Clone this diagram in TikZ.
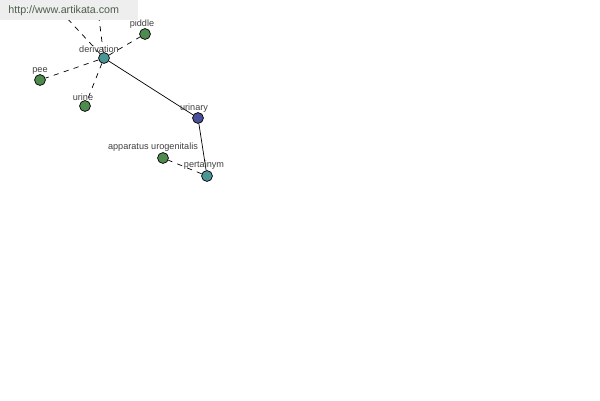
\documentclass[tikz,border=0pt]{standalone}
\usepackage{fontspec}
\setmainfont{Liberation Sans}
\usepackage{xcolor}
\usetikzlibrary{positioning, arrows.meta, calc}
\definecolor{leafgreen}{HTML}{4F8A4F}
\definecolor{relteal}{HTML}{4A9696}
\definecolor{wordblue}{HTML}{4A4F9A}
\definecolor{labelgray}{HTML}{404040}
\definecolor{bannergray}{HTML}{EEEEEE}
\definecolor{sitegreen}{HTML}{4E5E4E}

\tikzset{
  word/.style={circle, draw=black, line width=0.4pt, minimum size=6.2pt, inner sep=0pt},
  lbl/.style={text=labelgray, font=\fontsize{5.2}{6}\selectfont, inner sep=0pt, anchor=south},
  link/.style={draw=black, line width=0.4pt},
  weak/.style={link, dashed, dash pattern=on 3pt off 3pt}
}

\begin{document}
\begin{tikzpicture}[x=0.02cm, y=-0.02cm]
    \useasboundingbox (0,0) rectangle (600,400);
    % words
    \node[word, fill=relteal] (derivation) at (104,58) {};
    \node[word, fill=leafgreen] (piddle) at (145,34) {};
    \node[word, fill=leafgreen] (pee) at (40,80) {};
    \node[word, fill=leafgreen] (urine) at (85,106) {};
    \node[word, fill=wordblue] (urinary) at (198,118) {};
    \node[word, fill=relteal] (pertainym) at (207,176) {};
    \node[word, fill=leafgreen] (apparatus) at (163,158) {};
    \coordinate (up1) at (52,2);
    \coordinate (up2) at (97,2);
    % links
    \draw[link] (derivation) -- (urinary);
    \draw[link] (urinary) -- (pertainym);
    \draw[weak] (pertainym) -- (apparatus);
    \draw[weak] (derivation) -- (piddle);
    \draw[weak] (derivation) -- (pee);
    \draw[weak] (derivation) -- (urine);
    \draw[weak] (derivation) -- (up1);
    \draw[weak] (derivation) -- (up2);
    % labels
    \node[lbl] at (99,52.5) {derivation};
    \node[lbl] at (142,28.5) {piddle};
    \node[lbl] at (40,74.5) {pee};
    \node[lbl] at (83,100.5) {urine};
    \node[lbl] at (194,112.5) {urinary};
    \node[lbl] at (153,151.5) {apparatus urogenitalis};
    \node[lbl] at (204,169.5) {pertainym};
    % banner
    \fill[bannergray] (0,0) rectangle (138,20);
    \node[text=sitegreen, font=\fontsize{6.1}{7}\selectfont, anchor=west, inner sep=0pt] (site) at (8,11) {http://www.artikata.com};
  \end{tikzpicture}
\end{document}
